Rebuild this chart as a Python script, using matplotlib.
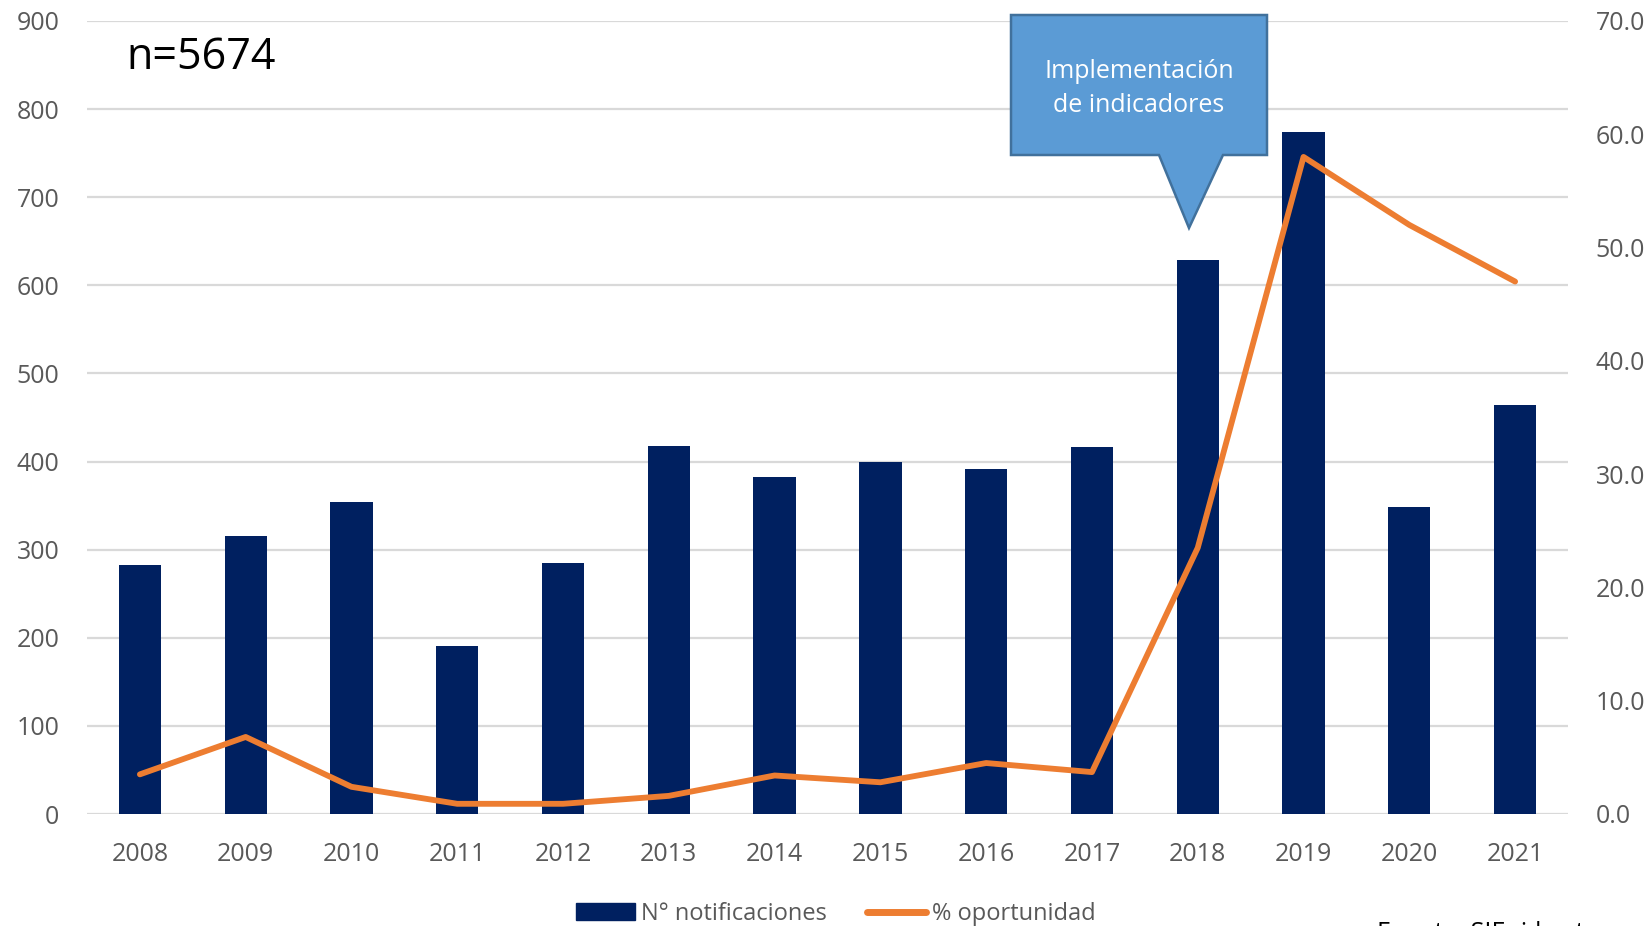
import matplotlib
matplotlib.use("Agg")
import matplotlib.pyplot as plt
from matplotlib.patches import Polygon, Patch
from matplotlib.lines import Line2D
from matplotlib.ticker import FormatStrFormatter

years = ["2008", "2009", "2010", "2011", "2012", "2013", "2014",
         "2015", "2016", "2017", "2018", "2019", "2020", "2021"]
notificaciones = [283, 316, 354, 191, 285, 418, 383, 400, 391, 416, 629, 774, 348, 464]
oportunidad = [3.5, 6.8, 2.4, 0.9, 0.9, 1.6, 3.4, 2.8, 4.5, 3.7, 23.5, 58.0, 52.0, 47.0]

W, H = 1652, 926
fig = plt.figure(figsize=(W / 100, H / 100), dpi=100)
plt.rcParams['font.family'] = ['Open Sans', 'DejaVu Sans']

ax = fig.add_axes([87 / W, 1 - 814 / H, (1568 - 87) / W, (814 - 21) / H])
ax2 = ax.twinx()

navy = "#002060"
orange = "#ED7D31"
grey_txt = "#595959"
grid_c = "#D9D9D9"

x = list(range(len(years)))
ax.bar(x, notificaciones, width=0.4, color=navy, zorder=3)
ax.set_ylim(0, 900)
ax.set_yticks(range(0, 901, 100))
ax.set_xlim(-0.5, len(years) - 0.5)
ax.set_xticks(x)
ax.set_xticklabels(years)
ax.yaxis.grid(True, color=grid_c, linewidth=1.6, zorder=0)
ax.set_axisbelow(True)
for s in ax.spines.values():
    s.set_visible(False)
for s in ax2.spines.values():
    s.set_visible(False)
ax.tick_params(axis='both', length=0, labelsize=18, colors=grey_txt)
ax.tick_params(axis='y', pad=20)
ax.tick_params(axis='x', pad=20)

ax2.plot(x, oportunidad, color=orange, linewidth=4.2, solid_joinstyle='round',
         solid_capstyle='round', zorder=4)
ax2.set_ylim(0, 70)
ax2.set_yticks(range(0, 71, 10))
ax2.yaxis.set_major_formatter(FormatStrFormatter('%.1f'))
ax2.tick_params(axis='y', length=0, labelsize=18, colors=grey_txt, pad=20)

ax.set_zorder(1)
ax2.set_zorder(2)
ax2.patch.set_visible(False)

# n label
fig.text(126 / W, 1 - 58 / H, "n=5674", fontsize=31, color="black", va='center', ha='left')

# callout
def fp(px, py):
    return (px / W, 1 - py / H)

pts = [fp(1011, 15), fp(1267, 15), fp(1267, 155), fp(1223, 155), fp(1189, 228),
       fp(1159, 155), fp(1011, 155)]
fig.patches.append(Polygon(pts, closed=True, facecolor="#5B9BD5", edgecolor="#41719C",
                           linewidth=1.8, transform=fig.transFigure, zorder=10))
fig.text(1139 / W, 1 - 71 / H, "Implementación", fontsize=18, color="white",
         ha='center', va='center', zorder=11)
fig.text(1139 / W, 1 - 105 / H, "de indicadores", fontsize=18, color="white",
         ha='center', va='center', zorder=11)

# legend
handles = [Patch(facecolor=navy, edgecolor=navy),
           Line2D([0], [0], color=orange, linewidth=5, solid_capstyle='round')]
leg = fig.legend(handles, ["N° notificaciones", "% oportunidad"], loc='center',
                 bbox_to_anchor=(836 / W, 1 - 914 / H), ncol=2, frameon=False,
                 fontsize=17, handlelength=2.5, handleheight=0.7, handletextpad=0.25,
                 columnspacing=1.7, labelcolor=grey_txt)

fig.text(1377 / W, 1 - 921 / H, "Fuente: SIEpi-brotes", fontsize=18, color="black",
         ha='left', va='top')

fig.savefig("out.png", dpi=100)
